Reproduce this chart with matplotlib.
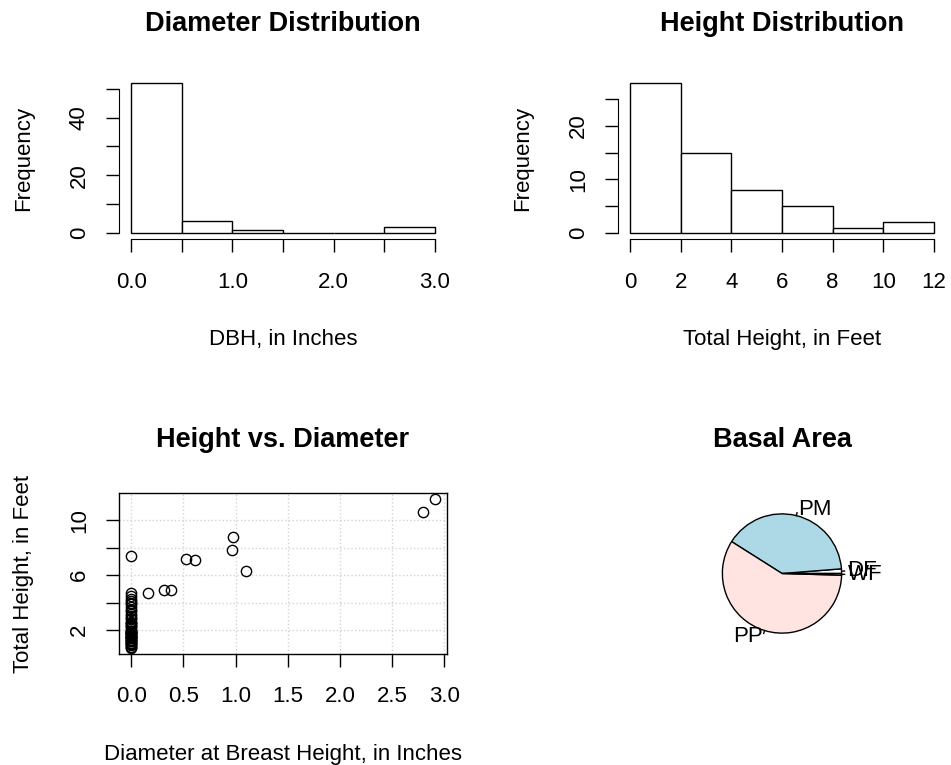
import matplotlib
matplotlib.use('Agg')
import matplotlib.pyplot as plt
import numpy as np

plt.rcParams['font.family'] = ['Liberation Sans', 'DejaVu Sans']

dbh = [0.0] * 49 + [0.16, 0.31, 0.38, 0.53, 0.61, 0.97, 0.98, 1.10, 2.80, 2.91]
height = [0.7, 0.8, 0.8, 0.9, 1.0, 1.0, 1.1, 1.1, 1.2, 1.2, 1.3, 1.3, 1.4, 1.4,
          1.5, 1.5, 1.5, 1.6, 1.6, 1.7, 1.7, 1.8, 1.8, 1.8, 1.9, 1.9, 1.95, 1.95,
          2.1, 2.2, 2.3, 2.4, 2.5, 2.5, 2.6, 2.8, 2.9, 3.0, 3.2, 3.4, 3.5, 3.7, 3.9,
          4.0, 4.1, 4.3, 4.5, 4.7, 7.4,
          4.7, 4.9, 4.9, 7.2, 7.1, 7.8, 8.8, 6.3, 10.6, 11.55]

dbh_bins = [0, 0.5, 1.0, 1.5, 2.0, 2.5, 3.0]
height_bins = [0, 2, 4, 6, 8, 10, 12]

species = ['DF', 'PM', 'PP', 'WF']
basal_area = [0.0014, 0.0445, 0.0655, 0.0005]
pie_colors = ['white', '#ADD8E6', '#FFE4E1', '#E0FFFF']

dbh_ticks = [0, 0.5, 1.0, 1.5, 2.0, 2.5, 3.0]
dbh_ticklabels = ['0.0', '', '1.0', '', '2.0', '', '3.0']
freq1_ticks = [0, 10, 20, 30, 40, 50]
freq1_ticklabels = ['0', '', '20', '', '40', '']
height_ticks = [0, 2, 4, 6, 8, 10, 12]
freq2_ticks = [0, 5, 10, 15, 20, 25]
freq2_ticklabels = ['0', '', '10', '', '20', '']
scatter_xticklabels = ['0.0', '0.5', '1.0', '1.5', '2.0', '2.5', '3.0']
scatter_yticks = [2, 4, 6, 8, 10]
scatter_yticklabels = ['2', '', '6', '', '10']

W, H = 951, 765
BASE = 16
TITLE = 19.5

fig = plt.figure(figsize=(W / 100, H / 100), dpi=100)


def region(x0, x1, y0, y1):
    # pixel box (top-left origin) -> figure axes
    return fig.add_axes([x0 / W, 1 - y1 / H, (x1 - x0) / W, (y1 - y0) / H])


def style_ticks(ax):
    ax.tick_params(direction='out', length=9.4, width=1, labelsize=BASE, colors='black')
    ax.tick_params(axis='x', pad=14)
    ax.tick_params(axis='y', pad=11.5)
    for lab in ax.get_yticklabels():
        lab.set_rotation(90)
        lab.set_va('center')


def labels(ax, title, xlabel, ylabel, h):
    ax.text(0.5, 1 + 46 / h, title, transform=ax.transAxes, ha='center', va='baseline',
            fontsize=TITLE, fontweight='bold')
    if xlabel:
        ax.text(0.5, -106 / h, xlabel, transform=ax.transAxes, ha='center', va='baseline',
                fontsize=BASE)
    if ylabel:
        ax.text(-95 / 328, 0.5, ylabel, transform=ax.transAxes, ha='center', va='center',
                rotation=90, fontsize=BASE)


def hist_panel(ax, values, bins, xticks, xticklabels, yticks, yticklabels):
    counts, _, _ = ax.hist(values, bins=bins, facecolor='white', edgecolor='black', linewidth=1)
    pad_x = 0.04 * (bins[-1] - bins[0])
    ax.set_xlim(bins[0] - pad_x, bins[-1] + pad_x)
    top = max(counts)
    ax.set_ylim(-0.04 * top, top * 1.04)
    for s in ['top', 'right']:
        ax.spines[s].set_visible(False)
    ax.spines['left'].set_bounds(yticks[0], yticks[-1])
    ax.spines['bottom'].set_bounds(xticks[0], xticks[-1])
    ax.set_xticks(xticks)
    ax.set_xticklabels(xticklabels)
    ax.set_yticks(yticks)
    ax.set_yticklabels(yticklabels)
    style_ticks(ax)


# top-left: diameter histogram
ax1 = region(119, 447, 77, 239)
hist_panel(ax1, dbh, dbh_bins, dbh_ticks, dbh_ticklabels, freq1_ticks, freq1_ticklabels)
labels(ax1, 'Diameter Distribution', 'DBH, in Inches', 'Frequency', 162)

# top-right: height histogram
ax2 = region(618, 946, 77, 239)
hist_panel(ax2, height, height_bins, height_ticks, [str(t) for t in height_ticks],
           freq2_ticks, freq2_ticklabels)
labels(ax2, 'Height Distribution', 'Total Height, in Feet', 'Frequency', 162)

# bottom-left: scatter
ax3 = region(119, 447, 493, 654)
ax3.plot(dbh, height, 'o', markersize=7.4, markerfacecolor='none', markeredgecolor='black',
         markeredgewidth=1)
xr = max(dbh) - min(dbh)
yr = max(height) - min(height)
ax3.set_xlim(min(dbh) - 0.04 * xr, max(dbh) + 0.04 * xr)
ax3.set_ylim(min(height) - 0.04 * yr, max(height) + 0.04 * yr)
ax3.set_xticks(dbh_ticks)
ax3.set_xticklabels(scatter_xticklabels)
ax3.set_yticks(scatter_yticks)
ax3.set_yticklabels(scatter_yticklabels)
ax3.grid(True, color='lightgray', linestyle=':', linewidth=1)
ax3.set_axisbelow(True)
for s in ax3.spines.values():
    s.set_linewidth(1)
style_ticks(ax3)
labels(ax3, 'Height vs. Diameter', 'Diameter at Breast Height, in Inches',
       'Total Height, in Feet', 161)

# bottom-right: pie
ax4 = region(618, 946, 493, 654)
wedges, texts = ax4.pie(basal_area, labels=species, colors=pie_colors, startangle=0,
                        counterclock=True, radius=0.8, labeldistance=1.1,
                        wedgeprops={'edgecolor': 'black', 'linewidth': 1},
                        textprops={'fontsize': BASE})
for w in wedges:
    mid = np.deg2rad((w.theta1 + w.theta2) / 2)
    ax4.plot([0.8 * np.cos(mid), 0.84 * np.cos(mid)], [0.8 * np.sin(mid), 0.84 * np.sin(mid)],
             color='black', linewidth=1)
ax4.set_xlim(-1.08, 1.08)
ax4.set_ylim(-1.08, 1.08)
ax4.set_aspect('equal', adjustable='datalim')
ax4.axis('off')
ax4.text(0.5, 1 + 46 / 161, 'Basal Area', transform=ax4.transAxes, ha='center', va='baseline',
         fontsize=TITLE, fontweight='bold')

fig.savefig('out.png', dpi=100)
